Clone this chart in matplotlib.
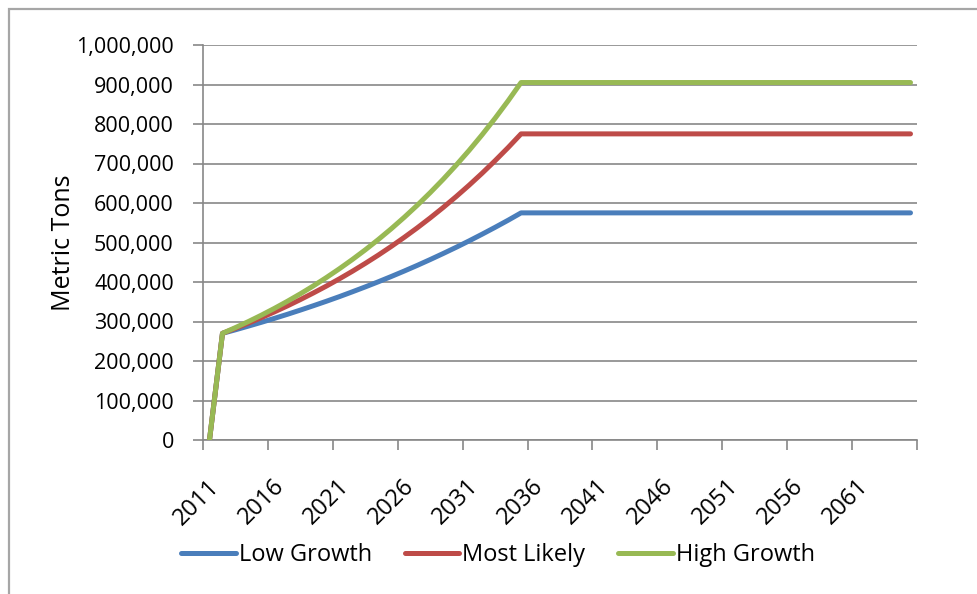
import matplotlib
matplotlib.use("Agg")
import matplotlib.pyplot as plt
import matplotlib.transforms as mtransforms
from matplotlib.patches import Rectangle
from matplotlib.ticker import FuncFormatter
import numpy as np

## dados (toneladas metricas por ano) ##
years = list(range(2011, 2066))

low_growth = [0, 270000, 279000, 288400, 298000, 307900, 318200, 328900, 339900,
              351200, 362900, 375100, 387600, 400500, 413900, 427700, 442000,
              456800, 472100, 487800, 504100, 521000, 538400, 556300, 575000] + [575000] * 30
most_likely = [0, 270000, 282700, 295900, 309800, 324300, 339500, 355500, 372200,
               389600, 407900, 427000, 447100, 468000, 490000, 513000, 537000,
               562200, 588600, 616200, 645100, 675400, 707100, 740200, 775000] + [775000] * 30
high_growth = [0, 270000, 284600, 299900, 316100, 333200, 351200, 370100, 390100,
               411200, 433400, 456800, 481400, 507400, 534800, 563700, 594100,
               626200, 660000, 695700, 733200, 772800, 814500, 858500, 905000] + [905000] * 30

series_names = ["Low Growth", "Most Likely", "High Growth"]
series_colors = ["#4A7EBB", "#BE4B48", "#98B954"]
tick_years = years[::5]

plt.rcParams['font.family'] = ['Open Sans', 'DejaVu Sans']
plt.rcParams['font.size'] = 15.5

W, H = 977, 594
fig = plt.figure(figsize=(W / 100, H / 100), dpi=100)
ax = fig.add_axes([203 / W, 1 - 440 / H, 714 / W, 395 / H])

# moldura cinzenta do grafico (cortada a direita e em baixo)
fig.add_artist(Rectangle((9 / W, -0.1), 1.0, 1 - 9 / H + 0.1, transform=fig.transFigure,
                         fill=False, edgecolor='#a6a6a6', lw=1.6))

# linhas das series
for valores, nome, cor in zip([low_growth, most_likely, high_growth], series_names, series_colors):
    ax.plot(years, valores, color=cor, lw=3.6, label=nome,
            solid_capstyle='round', solid_joinstyle='round', zorder=3)

# eixo y
ax.set_ylim(0, 1000000)
ax.set_yticks(np.arange(0, 1000001, 100000))
ax.yaxis.set_major_formatter(FuncFormatter(lambda v, p: f"{v:,.0f}"))
ax.yaxis.grid(True, color='#878787', lw=1.2)
ax.set_axisbelow(True)
ax.set_ylabel("Metric Tons", fontsize=18)
ax.yaxis.set_label_coords((76 - 203) / 714, (440 - 243) / 395)
ax.tick_params(axis='y', length=7, width=1.2, color='#878787', pad=14)

# eixo x: marcas entre categorias, rotulos a cada 5 anos
ax.set_xlim(years[0] - 0.5, years[-1] + 0.5)
ax.set_xticks(np.arange(years[0] - 0.5, years[-1] + 1, 5))
ax.set_xticklabels([])
ax.set_xticks(tick_years, [str(a) for a in tick_years], minor=True)
ax.tick_params(axis='x', which='major', length=7, width=1.2, color='#878787')
ax.tick_params(axis='x', which='minor', length=0, pad=31, labelsize=17)
offset = mtransforms.ScaledTranslation(6 / 100, 0, fig.dpi_scale_trans)
for lbl in ax.get_xticklabels(minor=True):
    lbl.set_rotation(45)
    lbl.set_ha('right')
    lbl.set_va('center')
    lbl.set_rotation_mode('anchor')
    lbl.set_transform(lbl.get_transform() + offset)

for lado in ['top', 'right']:
    ax.spines[lado].set_visible(False)
for lado in ['left', 'bottom']:
    ax.spines[lado].set_color('#878787')
    ax.spines[lado].set_linewidth(1.2)

# legenda em baixo
fig.legend(loc='center', bbox_to_anchor=(498 / W, 1 - 555 / H), ncol=3, frameon=False,
           fontsize=17, handlelength=2.3, handletextpad=0.13, columnspacing=1.4)

plt.savefig('out.png', dpi=100)
